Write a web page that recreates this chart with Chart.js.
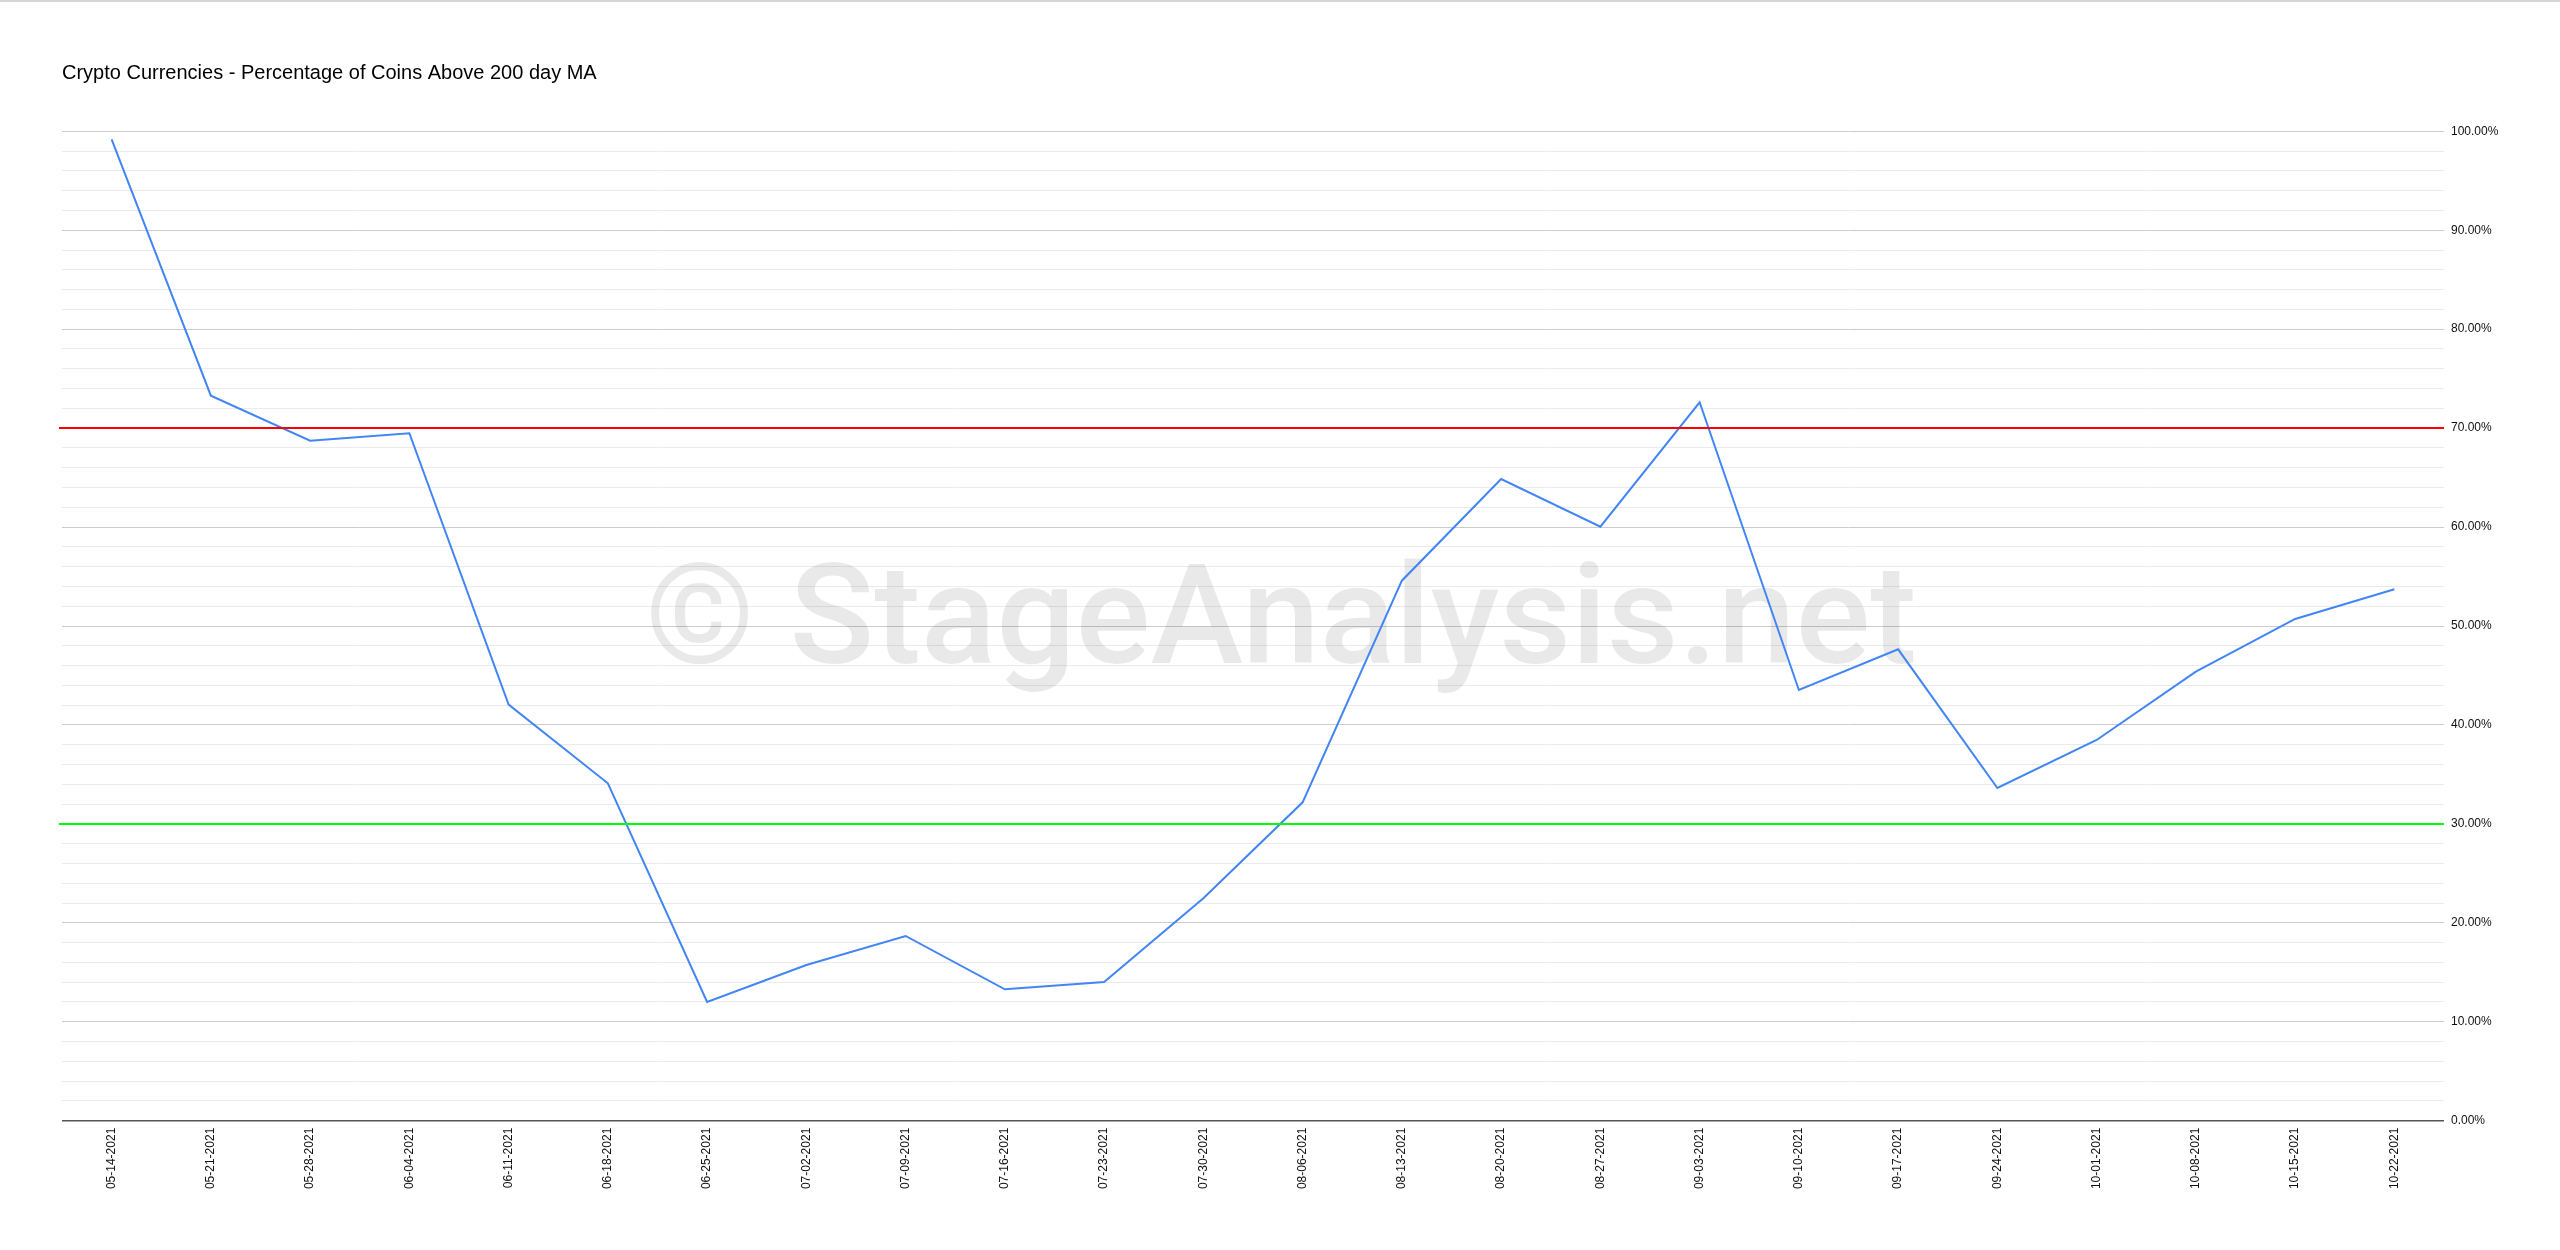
<!DOCTYPE html>
<html>
<head>
<meta charset="utf-8">
<script src="https://cdn.jsdelivr.net/npm/chart.js@4/dist/chart.umd.min.js"></script>
<style>
  html, body { margin: 0; padding: 0; background: #ffffff; }
  canvas { display: block; }
</style>
</head>
<body>
<canvas id="c" width="2560" height="1250"></canvas>
<script>
// ---- data ----
const weekLabels = [
  '05-14-2021','05-21-2021','05-28-2021','06-04-2021','06-11-2021','06-18-2021',
  '06-25-2021','07-02-2021','07-09-2021','07-16-2021','07-23-2021','07-30-2021',
  '08-06-2021','08-13-2021','08-20-2021','08-27-2021','09-03-2021','09-10-2021',
  '09-17-2021','09-24-2021','10-01-2021','10-08-2021','10-15-2021','10-22-2021'
];
const pctAbove200MA = [
  99.19, 73.28, 68.73, 69.48, 42.05, 34.10,
  12.00, 15.74, 18.67, 13.28, 14.02, 22.48,
  32.18, 54.58, 64.86, 60.04, 72.61, 43.53,
  47.64, 33.63, 38.48, 45.38, 50.71, 53.71
];
const upperThreshold = [70];
const lowerThreshold = [30];
const yTickValues = [0, 10, 20, 30, 40, 50, 60, 70, 80, 90, 100];
const chartTitle = 'Crypto Currencies - Percentage of Coins Above 200 day MA';
const watermarkText = '\u00A9 StageAnalysis.net';

// ---- plugins ----
const topBorder = {
  id: 'topBorder',
  afterDraw(chart) {
    const ctx = chart.ctx;
    ctx.save();
    ctx.strokeStyle = '#d6d6d6';
    ctx.lineWidth = 2;
    ctx.beginPath();
    ctx.moveTo(0, 1);
    ctx.lineTo(chart.width, 1);
    ctx.stroke();
    ctx.restore();
  }
};

const watermark = {
  id: 'watermark',
  beforeDatasetsDraw(chart) {
    const {ctx, chartArea} = chart;
    const w = chartArea.right - chartArea.left;
    const h = chartArea.bottom - chartArea.top;
    const x = chartArea.left + (645 - 62) / 2382 * w;
    const y = chartArea.top + (663 - 131.3) / 989.4 * h;
    const targetW = 1272 / 2382 * w;
    ctx.save();
    ctx.font = '500 144px Roboto';
    const m = ctx.measureText(watermarkText).width;
    const size = 144 * targetW / m;
    ctx.font = '500 ' + size.toFixed(2) + 'px Roboto';
    ctx.fillStyle = 'rgba(0,0,0,0.085)';
    ctx.textAlign = 'left';
    ctx.textBaseline = 'alphabetic';
    ctx.fillText(watermarkText, x, y);
    ctx.restore();
  }
};

const thresholdLines = {
  id: 'thresholdLines',
  afterDatasetsDraw(chart) {
    const {ctx, chartArea} = chart;
    const yScale = chart.scales.y;
    const draw = (v, color) => {
      const py = yScale.getPixelForValue(v);
      ctx.save();
      ctx.strokeStyle = color;
      ctx.lineWidth = 2;
      ctx.beginPath();
      ctx.moveTo(chartArea.left - 3, py);
      ctx.lineTo(chartArea.right, py);
      ctx.stroke();
      ctx.restore();
    };
    upperThreshold.forEach(v => draw(v, '#ff0000'));
    lowerThreshold.forEach(v => draw(v, '#00ff00'));
  }
};

Chart.defaults.font.family = '"Liberation Sans", Arial, sans-serif';

new Chart(document.getElementById('c'), {
  type: 'line',
  data: {
    labels: weekLabels,
    datasets: [{
      label: 'Percentage of Coins Above 200 day MA',
      data: pctAbove200MA,
      borderColor: '#4285f4',
      backgroundColor: '#4285f4',
      borderWidth: 2,
      pointRadius: 0,
      pointHoverRadius: 0,
      tension: 0,
      fill: false
    }]
  },
  options: {
    responsive: false,
    animation: false,
    devicePixelRatio: 1,
    layout: { padding: { left: 62, right: 0, top: 0, bottom: 0 } },
    plugins: {
      legend: { display: false },
      tooltip: { enabled: false },
      title: {
        display: true,
        text: chartTitle,
        align: 'start',
        color: '#000000',
        font: { size: 20, weight: 'normal', lineHeight: 1.2 },
        padding: { top: 61, bottom: 46.3 }
      }
    },
    scales: {
      x: {
        offset: true,
        grid: { display: false, drawTicks: false },
        border: { display: false },
        ticks: {
          autoSkip: false,
          minRotation: 90,
          maxRotation: 90,
          padding: 7,
          color: '#111111',
          font: { size: 12 }
        },
        afterFit(scale) { scale.height = 129.3; }
      },
      y: {
        position: 'right',
        min: 0,
        max: 100,
        grid: {
          drawTicks: false,
          color(ctx) {
            const v = ctx.tick ? ctx.tick.value : 0;
            if (v === 0) return '#555555';
            return (v % 10 === 0) ? '#cccccc' : '#ebebeb';
          },
          lineWidth(ctx) {
            const v = ctx.tick ? ctx.tick.value : 0;
            return v === 0 ? 1.5 : 1;
          }
        },
        border: { display: false },
        ticks: {
          stepSize: 2,
          autoSkip: false,
          padding: 7,
          color: '#111111',
          font: { size: 12 },
          callback(value) {
            return yTickValues.includes(value) ? value.toFixed(2) + '%' : '';
          }
        },
        afterFit(scale) { scale.width = 116; }
      }
    }
  },
  plugins: [watermark, thresholdLines, topBorder]
});
</script>
</body>
</html>
